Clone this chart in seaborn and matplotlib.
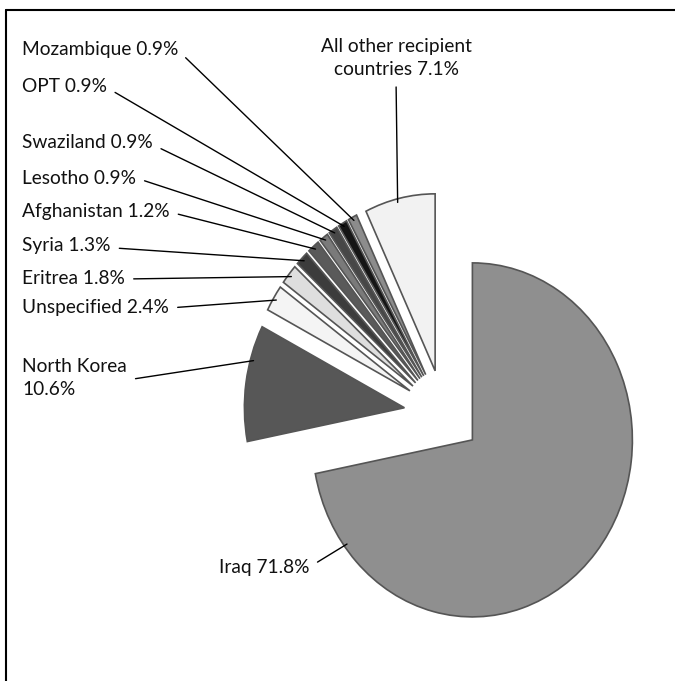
import numpy as np
import matplotlib
matplotlib.use("Agg")
import matplotlib.pyplot as plt
import seaborn as sns
from matplotlib.lines import Line2D

# data, clockwise from 12 o'clock
countries = ["Iraq", "North Korea", "Unspecified", "Eritrea", "Syria", "Afghanistan",
             "Lesotho", "Swaziland", "OPT", "Mozambique", "All other recipient countries"]
shares = [71.8, 10.6, 2.4, 1.8, 1.3, 1.2, 0.9, 0.9, 0.9, 0.9, 7.1]
greys = ["#8f8f8f", "#575757", "#f4f4f4", "#dedede", "#3c3c3c", "#5a5a5a",
         "#7a7a7a", "#474747", "#151515", "#8c8c8c", "#f2f2f2"]
explode = [0.23, 0.25, 0.25, 0.25, 0.25, 0.25, 0.25, 0.25, 0.25, 0.25, 0.25]

labels = []
for c, s in zip(countries, shares):
    if c == "North Korea":
        labels.append(f"{c}\n{s}%")
    elif c.startswith("All other"):
        labels.append(f"All other recipient\ncountries {s}%")
    else:
        labels.append(f"{c} {s}%")

# label placement (pixels from top-left), horizontal align, point along wedge, line start
place = {
    "Iraq": (219, 567, "left", 0.10, (1, 0.5)),
    "North Korea": (22, 378, "left", 0.30, (1, 0.45)),
    "Unspecified": (22, 308, "left", 0.5, (1, 0.5)),
    "Eritrea": (22, 279, "left", 0.5, (1, 0.5)),
    "Syria": (22, 246, "left", 0.5, (1, 0.4)),
    "Afghanistan": (22, 212, "left", 0.5, (1, 0.5)),
    "Lesotho": (22, 178, "left", 0.5, (1, 0.5)),
    "Swaziland": (22, 143, "left", 0.5, (1, 0.4)),
    "OPT": (22, 86, "left", 0.5, (1, 0.4)),
    "Mozambique": (22, 49, "left", 0.5, (1, 0.4)),
    "All other recipient countries": (396, 58, "center", 0.54, (0.5, 0)),
}

sns.set_theme(style="white")
plt.rcParams['font.family'] = ['Lato', 'DejaVu Sans']

W, H = 675, 681
fig = plt.figure(figsize=(W / 100, H / 100), dpi=100)
ax = fig.add_axes([0, 0, 1, 1])

wedges, _ = ax.pie(shares, colors=greys, explode=explode, startangle=90,
                   counterclock=False,
                   wedgeprops=dict(edgecolor="#555555", linewidth=1.2))
ax.set_aspect("auto")
cx, cy, rx, ry = 444, 414, 160, 177
ax.set_xlim(-cx / rx, (W - cx) / rx)
ax.set_ylim(-(H - cy) / ry, cy / ry)
ax.axis("off")

for w, c, lab in zip(wedges, countries, labels):
    x, y, ha, f, rp = place[c]
    th = np.deg2rad(w.theta1 + f * (w.theta2 - w.theta1))
    r = w.r * 0.98
    pt = (w.center[0] + r * np.cos(th), w.center[1] + r * np.sin(th))
    ax.annotate(lab, xy=pt, xytext=(x, H - y), textcoords="figure pixels",
                ha=ha, va="center", fontsize=13.8, color="#111111",
                multialignment=ha, linespacing=1.45,
                arrowprops=dict(arrowstyle="-", color="black", lw=1.0,
                                shrinkA=4, shrinkB=0, relpos=rp))

# frame: top and left only
fig.add_artist(Line2D([6 / W, 1], [1 - 10 / H, 1 - 10 / H], transform=fig.transFigure,
                      color="black", lw=1.5))
fig.add_artist(Line2D([6 / W, 6 / W], [0, 1 - 10 / H], transform=fig.transFigure,
                      color="black", lw=1.5))

fig.savefig("out.png", dpi=100)
